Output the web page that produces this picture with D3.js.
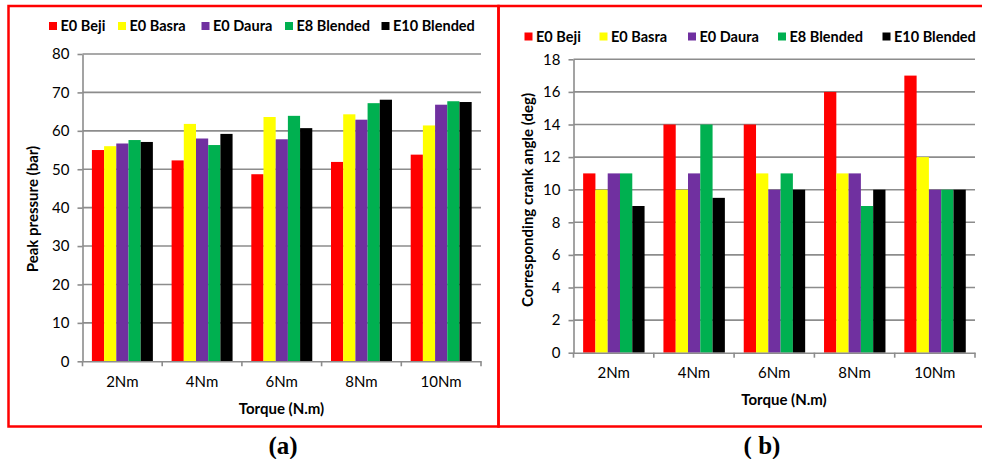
<!DOCTYPE html>
<html>
<head>
<meta charset="utf-8">
<script src="https://cdn.jsdelivr.net/npm/d3@7"></script>
<style>
  html, body { margin: 0; padding: 0; background: #fff; }
  svg { display: block; }
</style>
</head>
<body>
<svg id="chart" width="982" height="459"></svg>
<script>
// ---- data ----
const categories = ["2Nm", "4Nm", "6Nm", "8Nm", "10Nm"];
const seriesNames = ["E0 Beji", "E0 Basra", "E0 Daura", "E8 Blended", "E10 Blended"];
const seriesColors = ["#FF0000", "#FFFF00", "#7030A0", "#00B050", "#000000"];

// Panel (a): peak pressure (bar)
const pressureBeji    = [55.0, 52.3, 48.7, 51.9, 53.8];
const pressureBasra   = [56.0, 61.8, 63.6, 64.3, 61.4];
const pressureDaura   = [56.7, 58.0, 57.8, 62.9, 66.8];
const pressureE8      = [57.6, 56.3, 63.9, 67.2, 67.7];
const pressureE10     = [57.1, 59.2, 60.7, 68.1, 67.5];
const pressureTicks   = [0, 10, 20, 30, 40, 50, 60, 70, 80];

// Panel (b): corresponding crank angle (deg)
const angleBeji  = [11, 14, 14, 16, 17];
const angleBasra = [10, 10, 11, 11, 12];
const angleDaura = [11, 11, 10, 11, 10];
const angleE8    = [11, 14, 11, 9, 10];
const angleE10   = [9, 9.5, 10, 10, 10];
const angleTicks = [0, 2, 4, 6, 8, 10, 12, 14, 16, 18];

const SANS = "Lato, 'Open Sans', sans-serif";
const svg = d3.select("#chart");

// panel frames
svg.append("rect").attr("x", 8.5).attr("y", 6).attr("width", 490).attr("height", 420.5)
  .attr("fill", "none").attr("stroke", "#FF0000").attr("stroke-width", 2.5);
svg.append("rect").attr("x", 498.5).attr("y", 6).attr("width", 490).attr("height", 420.5)
  .attr("fill", "none").attr("stroke", "#FF0000").attr("stroke-width", 2.5);

function drawChart(opt) {
  const g = svg.append("g");
  const x = d3.scaleBand().domain(categories).range([opt.left, opt.right]).padding(0);
  const y = d3.scaleLinear().domain([opt.ticks[0], opt.ticks[opt.ticks.length - 1]])
    .range([opt.bottom, opt.top]);
  const inner = d3.scaleBand().domain(seriesNames)
    .range([x.bandwidth() * opt.groupStart, x.bandwidth() * (opt.groupStart + opt.groupWidth)])
    .padding(0);

  // gridlines
  g.append("g").selectAll("line").data(opt.ticks.slice(1)).join("line")
    .attr("x1", opt.left).attr("x2", opt.right)
    .attr("y1", d => y(d)).attr("y2", d => y(d))
    .attr("stroke", "#8C8C8C").attr("stroke-width", 1.6);

  // bars
  const groups = g.append("g").selectAll("g").data(categories).join("g")
    .attr("transform", d => `translate(${x(d)},0)`);
  groups.selectAll("rect")
    .data((c, i) => seriesNames.map((s, k) => ({ s, k, v: opt.values[k][i] })))
    .join("rect")
    .attr("x", d => inner(d.s))
    .attr("width", inner.bandwidth())
    .attr("y", d => y(d.v))
    .attr("height", d => y(opt.ticks[0]) - y(d.v))
    .attr("fill", d => seriesColors[d.k]);

  // y axis
  const yAxis = g.append("g").attr("transform", `translate(${opt.left},0)`)
    .call(d3.axisLeft(y).tickValues(opt.ticks).tickSize(5).tickPadding(8).tickSizeOuter(0));
  yAxis.select(".domain").attr("stroke", "#8C8C8C").attr("stroke-width", 1.6);
  yAxis.selectAll(".tick line").attr("stroke", "#8C8C8C").attr("stroke-width", 1.6);
  yAxis.selectAll("text").attr("fill", "#000")
    .style("font-family", SANS).style("font-size", "15px");

  // x axis
  const xAxis = g.append("g").attr("transform", `translate(0,${opt.bottom})`)
    .call(d3.axisBottom(x).tickSize(0).tickPadding(opt.xTickPad));
  xAxis.select(".domain").attr("stroke", "#8C8C8C").attr("stroke-width", 1.6);
  xAxis.selectAll("text").attr("fill", "#000")
    .style("font-family", SANS).style("font-size", "15px");
  // category boundary tick marks
  const bounds = categories.map(c => x(c)).concat([opt.right]);
  xAxis.append("g").selectAll("line").data(bounds).join("line")
    .attr("x1", d => d).attr("x2", d => d).attr("y1", 0).attr("y2", 5)
    .attr("stroke", "#8C8C8C").attr("stroke-width", 1.6);

  // axis titles
  g.append("text").attr("x", opt.xTitleX).attr("y", opt.xTitleY)
    .attr("text-anchor", "middle")
    .style("font-family", SANS).style("font-size", "15px").style("font-weight", "bold")
    .text("Torque (N.m)");
  g.append("text")
    .attr("transform", `translate(${opt.yTitleX},${opt.yTitleY}) rotate(-90)`)
    .attr("text-anchor", "middle").attr("dy", "0.35em")
    .style("font-family", SANS).style("font-size", "15px").style("font-weight", "bold")
    .text(opt.yTitle);

  // legend
  const leg = g.append("g");
  seriesNames.forEach((s, k) => {
    leg.append("rect").attr("x", opt.legendX[k]).attr("y", opt.legendY - 4)
      .attr("width", 8).attr("height", 8).attr("fill", seriesColors[k]);
    leg.append("text").attr("x", opt.legendX[k] + 11.5).attr("y", opt.legendY)
      .attr("dy", "0.35em")
      .style("font-family", SANS).style("font-size", "14.5px").style("font-weight", "bold")
      .text(s);
  });

  // caption
  svg.append("text").attr("x", opt.captionX).attr("y", 454)
    .attr("text-anchor", "middle")
    .style("font-family", "'Liberation Serif', 'Times New Roman', serif")
    .style("font-weight", "bold").style("font-size", "25px")
    .text(opt.caption);
}

drawChart({
  left: 82.5, right: 481, top: 54, bottom: 361.3,
  ticks: pressureTicks,
  values: [pressureBeji, pressureBasra, pressureDaura, pressureE8, pressureE10],
  groupStart: 0.118, groupWidth: 0.765,
  xTickPad: 15,
  xTitleX: 281.5, xTitleY: 414,
  yTitle: "Peak pressure (bar)", yTitleX: 33, yTitleY: 209,
  legendX: [49, 118, 201.5, 285, 381.5], legendY: 26,
  caption: "(a)", captionX: 283
});

drawChart({
  left: 573.5, right: 975, top: 59.3, bottom: 352.7,
  ticks: angleTicks,
  values: [angleBeji, angleBasra, angleDaura, angleE8, angleE10],
  groupStart: 0.12, groupWidth: 0.765,
  xTickPad: 15,
  xTitleX: 784, xTitleY: 405,
  yTitle: "Corresponding crank angle (deg)", yTitleX: 528, yTitleY: 200,
  legendX: [524.5, 599.5, 688, 778, 882.5], legendY: 36.5,
  caption: "( b)", captionX: 762
});
</script>
</body>
</html>
